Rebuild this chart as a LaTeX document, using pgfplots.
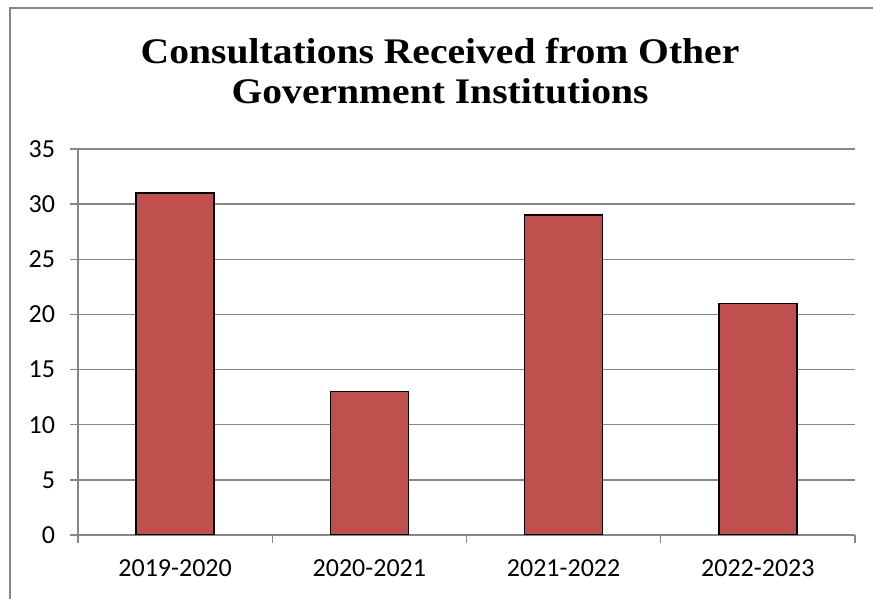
\documentclass[border=0pt]{standalone}
\usepackage{pgfplots}
\pgfplotsset{compat=1.18}
\usepackage{fontspec}
\setmainfont{Carlito}
\newfontfamily\titlefont[FakeStretch=1.1]{Liberation Serif}
\definecolor{barred}{HTML}{C0504D}
\definecolor{gridgray}{HTML}{868686}
\begin{document}
\begin{tikzpicture}
\path[use as bounding box] (-39pt,-32pt) rectangle (397.5pt,267.5pt);
\draw[gridgray, line width=0.7pt] (-34pt,-40pt) -- (-34pt,263.5pt) -- (400pt,263.5pt);
\begin{axis}[
  scale only axis,
  width=388.5pt, height=193pt,
  xmin=-0.5, xmax=3.5,
  ymin=0, ymax=35,
  ytick={0,5,...,35},
  xtick={0,1,2,3},
  xticklabels={2019-2020,2020-2021,2021-2022,2022-2023},
  minor xtick={-0.5,0.5,1.5,2.5,3.5},
  major x tick style={draw=none},
  minor x tick style={gridgray, line width=0.7pt},
  xminorgrids=false,
  ymajorgrids,
  grid style={gridgray, line width=0.7pt},
  axis x line*=bottom,
  axis y line*=left,
  axis line style={gridgray, line width=0.7pt},
  every tick/.style={gridgray, line width=0.7pt},
  tick align=outside,
  major tick length=4pt,
  minor tick length=4pt,
  ytick style={gridgray, line width=0.7pt},
  tick label style={font=\fontsize{13}{15}\selectfont},
  /pgf/number format/assume math mode=true,
  yticklabel style={xshift=-4pt},
  xticklabel style={yshift=-5pt},
  title style={at={(0.466,1)}, anchor=south, yshift=13pt, align=center, font=\titlefont\bfseries\fontsize{18}{20}\selectfont},
  title={Consultations Received from Other\\Government Institutions},
]
\addplot[ybar, bar width=39pt, fill=barred, draw=black, line width=0.8pt] coordinates {(0,31) (1,13) (2,29) (3,21)};
\end{axis}
\end{tikzpicture}
\end{document}
